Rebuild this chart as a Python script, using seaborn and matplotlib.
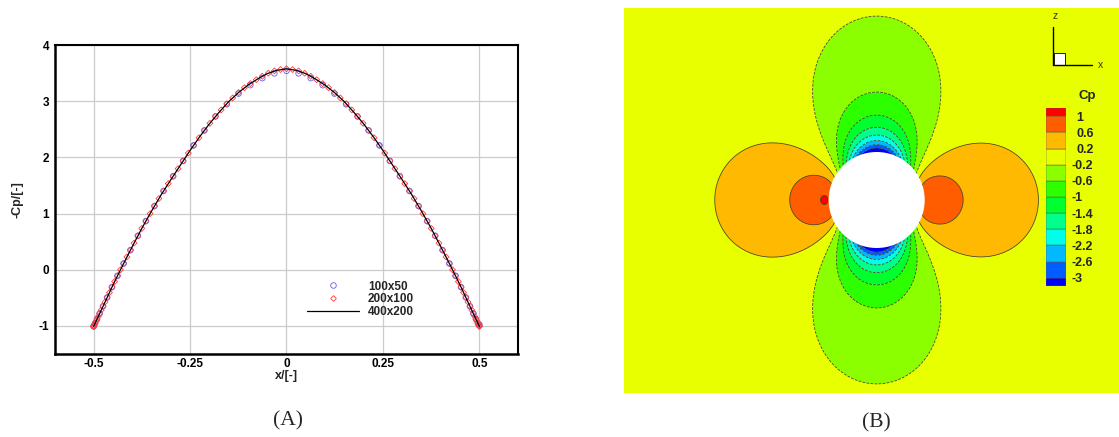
import numpy as np
import matplotlib
matplotlib.use("Agg")
import matplotlib.pyplot as plt
from matplotlib.patches import Circle, Rectangle
from matplotlib.lines import Line2D
import seaborn as sns

# ---------------- data: panel (A) ----------------
# 400x200 grid (solid line)
line_x = [-0.5, -0.475, -0.45, -0.425, -0.4, -0.375, -0.35, -0.325, -0.3, -0.275, -0.25,
          -0.225, -0.2, -0.175, -0.15, -0.125, -0.1, -0.075, -0.05, -0.025, 0.0,
          0.025, 0.05, 0.075, 0.1, 0.125, 0.15, 0.175, 0.2, 0.225, 0.25,
          0.275, 0.3, 0.325, 0.35, 0.375, 0.4, 0.425, 0.45, 0.475, 0.5]
line_y = [-1.010, -0.645, -0.274, 0.072, 0.409, 0.736, 1.041, 1.332, 1.600, 1.862, 2.122,
          2.368, 2.595, 2.800, 2.990, 3.150, 3.285, 3.395, 3.490, 3.550, 3.575,
          3.550, 3.490, 3.395, 3.285, 3.150, 2.990, 2.800, 2.595, 2.368, 2.122,
          1.862, 1.600, 1.332, 1.041, 0.736, 0.409, 0.072, -0.274, -0.645, -1.010]

# 100x50 grid (blue circles)
blue_x = [-0.5, -0.49901, -0.49606, -0.49114, -0.48429, -0.47553, -0.46489, -0.45241, -0.43815,
          -0.42216, -0.40451, -0.38526, -0.36448, -0.34227, -0.31871, -0.29389, -0.26791,
          -0.24088, -0.21289, -0.18406, -0.15451, -0.12434, -0.09369, -0.06267, -0.0314, 0.0,
          0.0314, 0.06267, 0.09369, 0.12434, 0.15451, 0.18406, 0.21289, 0.24088, 0.26791,
          0.29389, 0.31871, 0.34227, 0.36448, 0.38526, 0.40451, 0.42216, 0.43815, 0.45241,
          0.46489, 0.47553, 0.48429, 0.49114, 0.49606, 0.49901, 0.5]
blue_y = [-1.010, -0.995, -0.952, -0.880, -0.779, -0.650, -0.494, -0.310, -0.109,
          0.111, 0.349, 0.604, 0.865, 1.133, 1.402, 1.664, 1.937,
          2.213, 2.480, 2.729, 2.945, 3.135, 3.285, 3.410, 3.495, 3.540,
          3.495, 3.410, 3.285, 3.135, 2.945, 2.729, 2.480, 2.213, 1.937,
          1.664, 1.402, 1.133, 0.865, 0.604, 0.349, 0.111, -0.109, -0.310,
          -0.494, -0.650, -0.779, -0.880, -0.952, -0.985, -0.980]

# 200x100 grid (red diamonds)
red_x = [-0.5, -0.49975, -0.49901, -0.49778, -0.49606, -0.49384, -0.49114, -0.48796, -0.48429,
         -0.48015, -0.47553, -0.47044, -0.46489, -0.45887, -0.45241, -0.4455, -0.43815,
         -0.43037, -0.42216, -0.41354, -0.40451, -0.39508, -0.38526, -0.37505, -0.36448,
         -0.35355, -0.34227, -0.33066, -0.31871, -0.30646, -0.29389, -0.28104, -0.26791,
         -0.25452, -0.24088, -0.227, -0.21289, -0.19858, -0.18406, -0.16937, -0.15451,
         -0.1395, -0.12434, -0.10907, -0.09369, -0.07822, -0.06267, -0.04705, -0.0314,
         -0.01571, 0.0,
         0.01571, 0.0314, 0.04705, 0.06267, 0.07822, 0.09369, 0.10907, 0.12434, 0.1395,
         0.15451, 0.16937, 0.18406, 0.19858, 0.21289, 0.227, 0.24088, 0.25452, 0.26791,
         0.28104, 0.29389, 0.30646, 0.31871, 0.33066, 0.34227, 0.35355, 0.36448, 0.37505,
         0.38526, 0.39508, 0.40451, 0.41354, 0.42216, 0.43037, 0.43815, 0.4455, 0.45241,
         0.45887, 0.46489, 0.47044, 0.47553, 0.48015, 0.48429, 0.48796, 0.49114, 0.49384,
         0.49606, 0.49778, 0.49901, 0.49975, 0.5]
red_y = [-1.010, -1.006, -0.995, -0.977, -0.952, -0.919, -0.880, -0.833, -0.779,
         -0.718, -0.650, -0.575, -0.494, -0.405, -0.310, -0.211, -0.109,
         -0.002, 0.111, 0.228, 0.349, 0.474, 0.604, 0.735, 0.865,
         0.998, 1.133, 1.267, 1.402, 1.533, 1.664, 1.799, 1.937,
         2.076, 2.213, 2.349, 2.480, 2.607, 2.729, 2.845, 2.956,
         3.058, 3.154, 3.240, 3.313, 3.382, 3.444, 3.498, 3.539,
         3.563, 3.578,
         3.563, 3.539, 3.498, 3.444, 3.382, 3.313, 3.240, 3.154, 3.058,
         2.956, 2.845, 2.729, 2.607, 2.480, 2.349, 2.213, 2.076, 1.937,
         1.799, 1.664, 1.533, 1.402, 1.267, 1.133, 0.998, 0.865, 0.735,
         0.604, 0.474, 0.349, 0.228, 0.111, -0.002, -0.109, -0.211, -0.310,
         -0.405, -0.494, -0.575, -0.650, -0.718, -0.779, -0.833, -0.880, -0.919,
         -0.952, -0.977, -0.995, -1.006, -1.010]

series_labels = ["100x50", "200x100", "400x200"]
x_ticks = [-0.5, -0.25, 0, 0.25, 0.5]
x_ticklabels = ["-0.5", "-0.25", "0", "0.25", "0.5"]
y_ticks = [-1, 0, 1, 2, 3, 4]
y_ticklabels = ["-1", "0", "1", "2", "3", "4"]

# ---------------- data: panel (B) ----------------
cp_levels = [-3, -2.6, -2.2, -1.8, -1.4, -1, -0.6, -0.2, 0.2, 0.6, 1]
cp_labels = ["-3", "-2.6", "-2.2", "-1.8", "-1.4", "-1", "-0.6", "-0.2", "0.2", "0.6", "1"]
# Cp(r, th) = P(th)/r^2 - Q(th)/r^4   (r in cylinder radii)
P_coef = [-0.065, 2.642, -0.177]   # 1, cos2th, cos4th
Q_coef = [1.095, 0.345, 0.03]      # 1, cos2th, costh

band_colors = [(0, 0, 255), (0, 93, 255), (0, 185, 255), (0, 255, 232), (0, 255, 139),
               (0, 255, 46), (46, 255, 0), (139, 255, 0), (232, 255, 0), (255, 185, 0),
               (255, 93, 0), (255, 0, 0)]
band_colors = [tuple(c / 255 for c in rgb) for rgb in band_colors]

# ---------------- figure ----------------
sns.set_style("white")
plt.rcParams["font.family"] = ["Liberation Sans", "DejaVu Sans"]
plt.rcParams["font.weight"] = "bold"
plt.rcParams["axes.unicode_minus"] = False

W, H = 1119, 437
fig = plt.figure(figsize=(W / 100, H / 100), dpi=100)


def fxy(px, py):
    return px / W, 1 - py / H


# ---- panel A ----
axA = fig.add_axes([55 / W, 1 - 354 / H, 463 / W, 309 / H])
blue = "#5c5cff"
red = "#ff3c3c"
sns.scatterplot(x=blue_x, y=blue_y, ax=axA, marker="o", s=16, facecolor="none",
                edgecolor=blue, linewidth=0.6, zorder=3, legend=False)
sns.scatterplot(x=red_x, y=red_y, ax=axA, marker="D", s=9, facecolor="none",
                edgecolor=red, linewidth=0.6, zorder=4, legend=False)
sns.lineplot(x=line_x, y=line_y, ax=axA, color="black", linewidth=0.9, sort=False,
             estimator=None, zorder=5, legend=False)

axA.set_xlim(-0.6, 0.6)
axA.set_ylim(-1.5, 4)
axA.set_xticks(x_ticks)
axA.set_xticklabels(x_ticklabels)
axA.set_yticks(y_ticks)
axA.set_yticklabels(y_ticklabels)
axA.set_xticks(np.arange(-0.6, 0.6001, 0.05), minor=True)
axA.set_yticks(np.arange(-1.4, 4.0001, 0.2), minor=True)
axA.grid(True, which="major", color="#cccccc", linewidth=0.9)
axA.set_axisbelow(True)
axA.tick_params(which="both", direction="in", top=False, right=False,
                labelsize=8.5, colors="black")
axA.tick_params(which="major", length=5.5, width=1.1)
axA.tick_params(which="minor", length=3.5, width=1.0)
axA.tick_params(axis="y", pad=4.3)
axA.tick_params(axis="x", pad=3.0)
for lab in axA.get_xticklabels() + axA.get_yticklabels():
    lab.set_fontweight("bold")
for side in ["left", "bottom"]:
    axA.spines[side].set_linewidth(1.8)
for side in ["top", "right"]:
    axA.spines[side].set_linewidth(1.5)
for sp in axA.spines.values():
    sp.set_color("black")
axA.set_xlabel("x/[-]", fontsize=9, fontweight="bold", va="center")
axA.set_ylabel("-Cp/[-]", fontsize=9, fontweight="bold", va="center")
axA.xaxis.set_label_coords(0.5, -(376.5 - 354) / 309)
axA.yaxis.set_label_coords(-(55 - 18) / 463, 0.5)

handles = [
    Line2D([], [], ls="none", marker="o", ms=4.0, mfc="none", mec=blue, mew=0.6),
    Line2D([], [], ls="none", marker="D", ms=2.9, mfc="none", mec=red, mew=0.6),
    Line2D([], [], color="black", lw=0.9),
]
leg = axA.legend(handles, series_labels, loc="upper left",
                 bbox_to_anchor=fxy(307.3, 280.5), bbox_transform=fig.transFigure,
                 frameon=False, borderpad=0, borderaxespad=0, handlelength=4.4,
                 handletextpad=0.75, labelspacing=0.08,
                 prop={"size": 8.5, "weight": "bold"})

# ---- panel B ----
R_PX = 48.0
cx, cy = 876.7, 200.0
x0, x1 = (624 - cx) / R_PX, (W - cx) / R_PX
y0, y1 = (cy - 393) / R_PX, (cy - 8) / R_PX
axB = fig.add_axes([624 / W, 1 - 393 / H, (W - 624) / W, 385 / H])
gx = np.linspace(x0, x1, 1300)
gy = np.linspace(y0, y1, 1000)
GX, GY = np.meshgrid(gx, gy)
r2 = GX ** 2 + GY ** 2
th = np.arctan2(GY, GX)
P = P_coef[0] + P_coef[1] * np.cos(2 * th) + P_coef[2] * np.cos(4 * th)
Q = Q_coef[0] + Q_coef[1] * np.cos(2 * th) + Q_coef[2] * np.cos(th)
Cp = P / r2 - Q / r2 ** 2
Cp = np.where(r2 < 0.95 ** 2, np.nan, Cp)

fill_levels = [-100] + cp_levels + [100]
axB.contourf(GX, GY, Cp, levels=fill_levels, colors=band_colors, antialiased=True)
axB.contour(GX, GY, Cp, levels=cp_levels, colors=[(0.25, 0.25, 0.1)], linewidths=0.55)
axB.add_patch(Circle((0, 0), 1.0, facecolor="white", edgecolor="none", zorder=5))
axB.set_xlim(x0, x1)
axB.set_ylim(y0, y1)
axB.set_axis_off()

# colorbar (legend of contour levels)
cb_top, cb_bot = 108.3, 285.7
cax = fig.add_axes([1045.5 / W, 1 - cb_bot / H, 20.3 / W, (cb_bot - cb_top) / H])
bottoms = [0] + [0.5 + i for i in range(10)] + [10.5]
heights = [0.5] + [1.0] * 10 + [0.5]
cax.bar(x=[0.5] * 12, height=heights, bottom=bottoms, width=1.0, color=band_colors,
        edgecolor=(0.35, 0.35, 0.3), linewidth=0.35)
cax.set_xlim(0, 1)
cax.set_ylim(0, 11)
cax.set_axis_off()
unit = (cb_bot - cb_top) / 11
for i, lab in enumerate(cp_labels):
    ypx = cb_bot - (0.5 + i) * unit + 1.5
    xpx = 1071.5 if lab.startswith("-") else 1076.3
    fig.text(*fxy(xpx, ypx), lab, ha="left", va="center", fontsize=9, fontweight="bold")
fig.text(*fxy(1087.5, 96), "Cp", ha="center", va="center", fontsize=9.5, fontweight="bold")

# axis triad
def fig_line(p, q, **kw):
    (ax_, ay_), (bx_, by_) = fxy(*p), fxy(*q)
    fig.add_artist(Line2D([ax_, bx_], [ay_, by_], transform=fig.transFigure, **kw))

fig_line((1053.3, 26.5), (1053.3, 65), color="black", lw=1.0)
fig_line((1053.3, 65), (1091.7, 65), color="black", lw=1.0)
sq = Rectangle(fxy(1054, 64.5), 11 / W, 11 / H, transform=fig.transFigure,
               facecolor="white", edgecolor="black", lw=0.6)
fig.add_artist(sq)
fig.text(*fxy(1055, 16), "z", ha="center", va="center", fontsize=7.5, fontweight="normal",
         color="#333333")
fig.text(*fxy(1100.5, 65.5), "x", ha="center", va="center", fontsize=7.5,
         fontweight="normal", color="#333333")

# panel captions
fig.text(*fxy(288, 421), "(A)", ha="center", va="center", fontsize=15.5,
         fontweight="normal", family="Liberation Serif")
fig.text(*fxy(876.7, 423), "(B)", ha="center", va="center", fontsize=15.5,
         fontweight="normal", family="Liberation Serif")

fig.savefig("out.png", dpi=100)
